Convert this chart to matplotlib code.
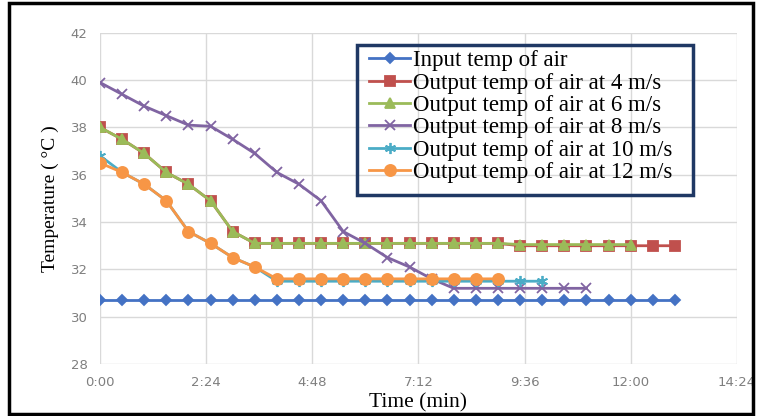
import matplotlib.pyplot as plt
from matplotlib.patches import Rectangle
from matplotlib.ticker import FuncFormatter

# time in seconds, one reading every 30 s
step = 30
input_air = [30.7] * 27
out_4 = [38.0, 37.5, 36.9, 36.1, 35.6, 34.9, 33.6] + [33.1] * 12 + [33.0] * 8
out_6 = [38.0, 37.5, 36.9, 36.1, 35.6, 34.9, 33.6] + [33.1] * 12 + [33.05] * 6
out_8 = [39.9, 39.4, 38.9, 38.5, 38.1, 38.05, 37.5, 36.9, 36.1, 35.6, 34.9,
         33.6, 33.1, 32.5, 32.1, 31.6] + [31.2] * 7
out_10 = [36.8, 36.1, 35.6, 34.9, 33.6, 33.1, 32.5, 32.1] + [31.5] * 13
out_12 = [36.5, 36.1, 35.6, 34.9, 33.6, 33.1, 32.5, 32.1] + [31.6] * 11

series = [
    ("Input temp of air", input_air, "#4472C4", "D", 5),
    ("Output temp of air at 4 m/s", out_4, "#C0504D", "s", 7),
    ("Output temp of air at 6 m/s", out_6, "#9BBB59", "^", 7),
    ("Output temp of air at 8 m/s", out_8, "#8064A2", "x", 7),
    ("Output temp of air at 10 m/s", out_10, "#4BACC6", (6, 2, 0), 8),
    ("Output temp of air at 12 m/s", out_12, "#F79646", "o", 8),
]

x_ticks = [0, 144, 288, 432, 576, 720, 864]


def mmss(v, pos):
    v = int(round(v))
    return "%d:%02d" % (v // 60, v % 60)


fig = plt.figure(figsize=(7.58, 4.16), dpi=100)
ax = fig.add_axes([0.132, 0.125, 0.840, 0.796])

for name, vals, col, mk, ms in series:
    t = [i * step for i in range(len(vals))]
    ax.plot(t, vals, color=col, marker=mk, markersize=ms, lw=2,
            markeredgewidth=1.3, label=name)

ax.set_xlim(0, 864)
ax.set_ylim(28, 42)
ax.set_xticks(x_ticks)
ax.xaxis.set_major_formatter(FuncFormatter(mmss))
ax.set_yticks(range(28, 43, 2))
ax.grid(color="#d9d9d9", lw=1)
ax.set_axisbelow(True)
for s in ax.spines.values():
    s.set_visible(False)
ax.tick_params(length=0, labelsize=9.5, labelcolor="#7f7f7f", pad=9)

ax.set_xlabel("Time (min)", family="Liberation Serif", fontsize=15.5, labelpad=3)
ax.set_ylabel("Temperature ( °C )", family="Liberation Serif", fontsize=14, labelpad=8)

# legend without its own frame, box drawn separately (it has extra room at the bottom)
leg = ax.legend(loc="upper left", bbox_to_anchor=(0.39, 1.01),
                prop={"family": "Liberation Serif", "size": 16.5},
                frameon=False, handlelength=1.8, handletextpad=0.1,
                labelspacing=0.06, borderpad=0.4)
ax.add_patch(Rectangle((0.403, 0.511), 0.529, 0.453, transform=ax.transAxes,
                       fill=False, edgecolor="#1F3864", lw=2.5, zorder=5))

fig.patches.append(Rectangle((0.012, 0.005), 0.982, 0.988, transform=fig.transFigure,
                             fill=False, edgecolor="black", lw=2.5))

fig.savefig("out.png", dpi=100)
